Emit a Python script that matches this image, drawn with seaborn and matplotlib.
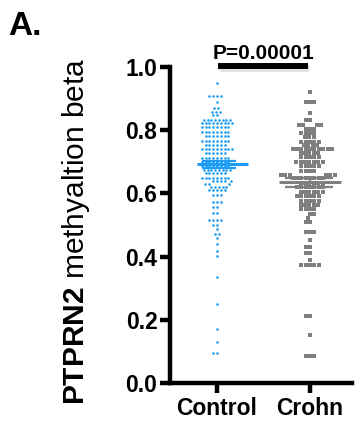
import matplotlib
matplotlib.use('Agg')
import numpy as np
import pandas as pd
import matplotlib.pyplot as plt
import seaborn as sns
from matplotlib.path import Path

sns.set_theme(style='white')
plt.rcParams['font.family'] = ['Liberation Sans', 'DejaVu Sans']
plt.rcParams['mathtext.fontset'] = 'custom'
plt.rcParams['mathtext.rm'] = 'Liberation Sans'
plt.rcParams['mathtext.bf'] = 'Liberation Sans:bold'
plt.rcParams['text.color'] = 'black'

groups = ['Control', 'Crohn']
colors = ['#1e9cf5', '#7f7f7f']
y_ticks = [0.0, 0.2, 0.4, 0.6, 0.8, 1.0]
p_text = 'P=0.00001'

# methylation beta values, one row of dots per line
control = [0.950,
           0.908, 0.908, 0.908, 0.908,
           0.888, 0.869, 0.869, 0.859, 0.859, 0.859, 0.848, 0.848,
           0.832, 0.832, 0.832, 0.832, 0.832, 0.832, 0.832, 0.832,
           0.822, 0.822, 0.822, 0.822, 0.822, 0.822, 0.822, 0.822, 0.822,
           0.809, 0.809, 0.809, 0.809, 0.809, 0.809, 0.809, 0.809,
           0.795, 0.795, 0.795, 0.795, 0.795, 0.795, 0.795, 0.795,
           0.782, 0.782, 0.782, 0.782, 0.782, 0.782, 0.782,
           0.766, 0.766, 0.766, 0.766, 0.766, 0.766, 0.766, 0.766,
           0.753, 0.753, 0.753, 0.753, 0.753, 0.753,
           0.740, 0.740, 0.740, 0.740, 0.740, 0.740, 0.740, 0.740, 0.740,
           0.727, 0.727, 0.727, 0.727, 0.727, 0.727,
           0.713, 0.713, 0.713, 0.713, 0.713, 0.713, 0.713, 0.713,
           0.700, 0.700, 0.700, 0.700, 0.700, 0.700, 0.700, 0.700,
           0.687, 0.687, 0.687, 0.687, 0.687, 0.687, 0.687, 0.687,
           0.674, 0.674, 0.674, 0.674, 0.674, 0.674, 0.674, 0.674,
           0.664, 0.664, 0.664, 0.664, 0.664, 0.664,
           0.650, 0.650, 0.650, 0.650, 0.650, 0.650, 0.650, 0.650,
           0.638, 0.638, 0.638, 0.638, 0.638, 0.629, 0.629, 0.629,
           0.621, 0.621, 0.621, 0.621, 0.621, 0.611, 0.611, 0.611, 0.611, 0.611,
           0.595, 0.595, 0.595, 0.574, 0.574, 0.574, 0.557, 0.557,
           0.539, 0.539, 0.516, 0.516, 0.516, 0.516, 0.500, 0.500,
           0.486, 0.470, 0.470, 0.460, 0.440, 0.419, 0.402,
           0.335, 0.250, 0.170, 0.130, 0.095, 0.095]

crohn = [0.922,
         0.890, 0.890, 0.890, 0.855,
         0.832, 0.832, 0.816, 0.816, 0.816, 0.816, 0.805, 0.805, 0.805,
         0.790, 0.790, 0.790, 0.790, 0.777, 0.777, 0.777,
         0.764, 0.764, 0.764, 0.764, 0.764, 0.752, 0.752, 0.752, 0.752,
         0.740, 0.740, 0.740, 0.740, 0.740, 0.740, 0.740, 0.740, 0.740, 0.740,
         0.727, 0.727, 0.727, 0.727, 0.727,
         0.714, 0.714, 0.714, 0.714, 0.714,
         0.700, 0.700, 0.700, 0.700, 0.700, 0.700, 0.700,
         0.687, 0.687, 0.687, 0.687, 0.687,
         0.672, 0.672, 0.672, 0.672,
         0.658, 0.658, 0.658, 0.658, 0.658, 0.658,
         0.648, 0.648, 0.648, 0.648, 0.648, 0.648, 0.648, 0.648,
         0.634, 0.634, 0.634, 0.634, 0.634, 0.634,
         0.621, 0.621, 0.621, 0.621, 0.621, 0.621, 0.621,
         0.605, 0.605, 0.605, 0.605, 0.605, 0.605,
         0.592, 0.592, 0.592, 0.592, 0.592, 0.592,
         0.577, 0.577, 0.577, 0.577, 0.577,
         0.563, 0.563, 0.563, 0.563, 0.563,
         0.550, 0.550, 0.550, 0.550, 0.535, 0.535, 0.522,
         0.510, 0.510, 0.479, 0.479, 0.479, 0.452, 0.431, 0.431,
         0.410, 0.410, 0.390, 0.373, 0.373, 0.373, 0.373, 0.373,
         0.212, 0.212, 0.152, 0.085, 0.085, 0.085]

df = pd.DataFrame({'group': ['Control'] * len(control) + ['Crohn'] * len(crohn),
                   'beta': control + crohn})

fig = plt.figure(figsize=(3.57, 4.29), dpi=100)
ax = fig.add_axes([170 / 357, 1 - 383 / 429, 182 / 357, 316 / 429])

sns.swarmplot(data=df[df.group == 'Control'], x='group', y='beta', order=groups,
              color=colors[0], marker='o', size=2.6, linewidth=0, ax=ax)
n_before = len(ax.collections)
sns.swarmplot(data=df[df.group == 'Crohn'], x='group', y='beta', order=groups,
              color=colors[1], marker='s', size=3.0, linewidth=0, ax=ax)

# swarm spacing comes from the marker size, draw the marks smaller than that
sq = 0.42
for k, coll in enumerate(ax.collections):
    if len(coll.get_offsets()) == 0:
        continue
    if k < n_before:
        coll.set_paths([Path.circle(radius=0.36)])
    else:
        coll.set_paths([Path([[-sq, -sq], [sq, -sq], [sq, sq], [-sq, sq], [-sq, -sq]], closed=True)])

# mean with SEM
half = [(-0.22, 0.33, -0.16, 0.20), (-0.33, 0.33, -0.27, 0.25)]
for i, g in enumerate(groups):
    vals = df.loc[df.group == g, 'beta']
    m = vals.mean()
    sem = vals.std() / np.sqrt(len(vals))
    a, b, c, d = half[i]
    ax.hlines(m, i + a, i + b, color=colors[i], lw=2.2, zorder=5)
    ax.hlines([m - sem, m + sem], i + c, i + d, color=colors[i], lw=1.6, zorder=5)
    ax.vlines(i, m - sem, m + sem, color=colors[i], lw=1.6, zorder=5)

# significance bar
ax.plot([0.02, 0.99], [0.998, 0.998], color='#d0d0d0', lw=5, clip_on=False,
        solid_capstyle='butt', alpha=0.6)
ax.plot([0.01, 0.98], [1.004, 1.004], color='black', lw=4.3, clip_on=False,
        solid_capstyle='butt')
ax.text(0.495, 1.024, p_text, ha='center', va='baseline', fontsize=15,
        fontweight='bold', color='black')

ax.set_xlim(-0.505, 1.45)
ax.set_ylim(0, 1.0)
ax.set_yticks(y_ticks)
ax.set_yticklabels(['{:.1f}'.format(t) for t in y_ticks], fontweight='bold', fontsize=16.5)
ax.set_xticks([0, 1])
ax.set_xticklabels(groups, fontweight='bold', fontsize=16.5)
ax.set_xlabel('')
ax.set_ylabel(r'$\mathbf{PTPRN2}$ methyaltion beta', fontsize=21.5, color='black')
ax.yaxis.set_label_coords(-0.43, 0.48)

for s in ['top', 'right']:
    ax.spines[s].set_visible(False)
for s in ['left', 'bottom']:
    ax.spines[s].set_linewidth(3.2)
    ax.spines[s].set_color('black')
ax.tick_params(axis='both', direction='out', length=7, width=3.2, color='black',
               labelcolor='black', left=True, bottom=True)
ax.tick_params(axis='y', pad=2)
ax.tick_params(axis='x', pad=3)

fig.text(8 / 357, 1 - 35 / 429, 'A.', fontsize=24, fontweight='bold', va='baseline')

fig.savefig('out.png', dpi=100)
